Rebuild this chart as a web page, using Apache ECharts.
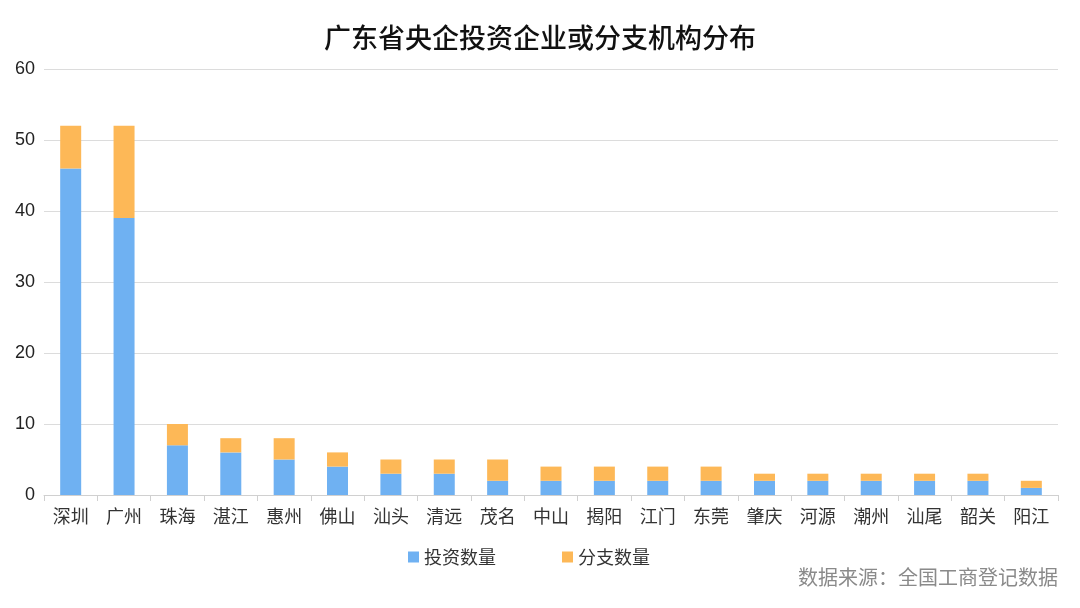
<!DOCTYPE html>
<html><head><meta charset="utf-8">
<script src="https://cdn.jsdelivr.net/npm/echarts@6/dist/echarts.min.js"></script>
<style>html,body{margin:0;padding:0;background:#fff}#c{width:1080px;height:608px}</style>
</head><body><div id="c"></div>
<script>
const categories = ['深圳','广州','珠海','湛江','惠州','佛山','汕头','清远','茂名','中山','揭阳','江门','东莞','肇庆','河源','潮州','汕尾','韶关','阳江'];
const investCount = [46,39,7,6,5,4,3,3,2,2,2,2,2,2,2,2,2,2,1];
const branchCount = [6,13,3,2,3,2,2,2,3,2,2,2,2,1,1,1,1,1,1];
const yTicks = [0,10,20,30,40,50,60];
const font = '"Noto Sans CJK SC", "Noto Sans", sans-serif';
const chart = echarts.init(document.getElementById('c'));
chart.setOption({
  backgroundColor:'#fff',
  animation:false,
  title:{text:'广东省央企投资企业或分支机构分布',left:'center',top:19,textStyle:{fontFamily:font,fontSize:27,fontWeight:500,color:'#111'}},
  graphic:[{type:'text',right:22,top:567,style:{text:'数据来源：全国工商登记数据',fontFamily:font,fontSize:20,fill:'#8a8a8a'}}],
  legend:{top:543,left:403,itemGap:66,itemWidth:11,itemHeight:11,icon:'rect',textStyle:{fontFamily:font,fontSize:18,color:'#333'},data:['投资数量','分支数量']},
  grid:{left:44,right:22,top:69,bottom:113,containLabel:false},
  xAxis:{type:'category',data:categories,axisLine:{lineStyle:{color:'#d0d0d0'}},axisTick:{show:true,alignWithLabel:false,length:6,lineStyle:{color:'#d0d0d0'}},axisLabel:{fontFamily:font,fontSize:18,color:'#333',margin:12,interval:0}},
  yAxis:{type:'value',min:yTicks[0],max:yTicks[yTicks.length-1],interval:10,axisLine:{show:false},axisTick:{show:false},splitLine:{lineStyle:{color:'#dcdcdc'}},axisLabel:{fontFamily:'"Liberation Sans", Arial, sans-serif',fontSize:18,color:'#222',margin:9}},
  series:[
    {name:'投资数量',type:'bar',stack:'s',data:investCount,barWidth:21,itemStyle:{color:'#6fb1f2'}},
    {name:'分支数量',type:'bar',stack:'s',data:branchCount,barWidth:21,itemStyle:{color:'#fdb857'}}
  ]
});
</script></body></html>
